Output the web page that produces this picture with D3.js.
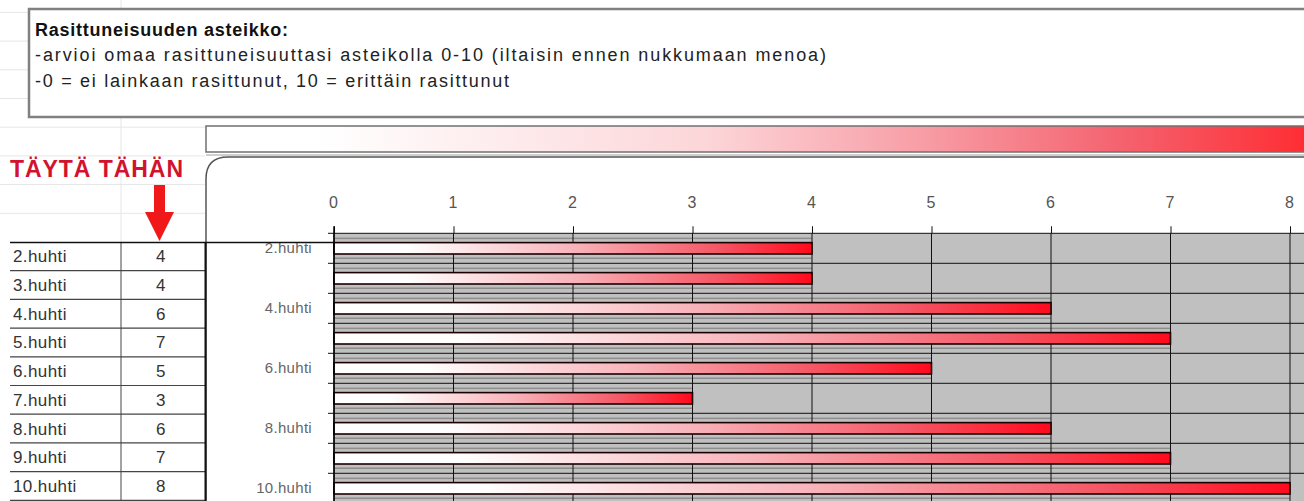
<!DOCTYPE html>
<html>
<head>
<meta charset="utf-8">
<title>Rasittuneisuus</title>
<style>
body { margin: 0; background: #fff; }
svg { display: block; font-family: "Liberation Sans", Arial, sans-serif; }
.tbl text { fill: #333; font-size: 17px; letter-spacing: 0.4px; }
.xAxis text { fill: #555; font-size: 16px; }
.yAxis text { fill: #666; font-size: 15px; letter-spacing: 0.3px; }
</style>
<script src="https://cdn.jsdelivr.net/npm/d3@7"></script>
</head>
<body>
<svg id="chart" width="1304" height="501"></svg>
<script>

// data
var days = ["2.huhti", "3.huhti", "4.huhti", "5.huhti", "6.huhti", "7.huhti", "8.huhti", "9.huhti", "10.huhti"];
var values = [4, 4, 6, 7, 5, 3, 6, 7, 8];
var xTicks = [0, 1, 2, 3, 4, 5, 6, 7, 8, 9, 10];
var yLabels = ["2.huhti", "4.huhti", "6.huhti", "8.huhti", "10.huhti"];
var infoTitle = "Rasittuneisuuden asteikko:";
var infoLines = ["-arvioi omaa rasittuneisuuttasi asteikolla 0-10 (iltaisin ennen nukkumaan menoa)",
                 "-0 = ei lainkaan rasittunut, 10 = erittäin  rasittunut"];
var fillTitle = "TÄYTÄ TÄHÄN";

var data = days.map(function(d, i) { return {day: d, value: values[i]}; });

var svg = d3.select("#chart");
var W = 1304;

// gradients
var defs = svg.append("defs");
var gBar = defs.append("linearGradient").attr("id", "barGrad");
[[0, "#ffffff"], [0.15, "#ffffff"], [0.5, "#f8b4bb"], [0.8, "#f45866"], [1, "#ff0a1c"]].forEach(function(s) {
  gBar.append("stop").attr("offset", s[0]).attr("stop-color", s[1]);
});
var gTop = defs.append("linearGradient").attr("id", "topGrad");
[[0, "#ffffff"], [0.1, "#ffffff"], [0.45, "#fcd6d9"], [0.63, "#f8a2aa"], [0.82, "#f46470"], [1, "#ff2a30"]].forEach(function(s) {
  gTop.append("stop").attr("offset", s[0]).attr("stop-color", s[1]);
});

// faint sheet grid on the left
var sheetRows = d3.range(1, 9).map(function(k) { return 242 - k * 28.7; });
svg.append("g").selectAll("line").data(sheetRows).join("line")
  .attr("x1", 0).attr("x2", 205).attr("y1", d => d).attr("y2", d => d)
  .attr("stroke", "#e6e6e6");
svg.append("line").attr("x1", 121).attr("x2", 121).attr("y1", 0).attr("y2", 242).attr("stroke", "#e6e6e6");

// info box
svg.append("rect").attr("x", 29).attr("y", 9).attr("width", 1300).attr("height", 108)
  .attr("fill", "#fff").attr("stroke", "#808080").attr("stroke-width", 2.5);
svg.append("text").attr("x", 35).attr("y", 36).attr("font-size", 18).attr("font-weight", "bold")
  .attr("fill", "#111").attr("textLength", 253).attr("lengthAdjust", "spacing").text(infoTitle);
svg.append("text").attr("x", 35).attr("y", 61).attr("font-size", 18).attr("fill", "#222")
  .attr("textLength", 791).attr("lengthAdjust", "spacing").text(infoLines[0]);
svg.append("text").attr("x", 35).attr("y", 87).attr("font-size", 18).attr("fill", "#222")
  .attr("textLength", 474).attr("lengthAdjust", "spacing").text(infoLines[1]);

// gradient strip above the chart
svg.append("rect").attr("x", 206).attr("y", 126).attr("width", 1110).attr("height", 26)
  .attr("fill", "url(#topGrad)").attr("stroke", "#707070").attr("stroke-width", 1.5);
svg.append("line").attr("x1", 206).attr("x2", W).attr("y1", 155).attr("y2", 155).attr("stroke", "#a0a0a0");

// chart frame with rounded corner
svg.append("path")
  .attr("d", "M206,520 L206,179 Q206,157 228,157 L1320,157")
  .attr("fill", "#fff").attr("stroke", "#555").attr("stroke-width", 1.5);

// "fill here" label and arrow
svg.append("text").attr("x", 10).attr("y", 177).attr("font-size", 23).attr("font-weight", "bold")
  .attr("fill", "#d2122e").attr("textLength", 173).attr("lengthAdjust", "spacing").text(fillTitle);
svg.append("path")
  .attr("d", "M154,185 L165,185 L165,212 L174,212 L159.5,241 L145,212 L154,212 Z")
  .attr("fill", "#f01818");

// table
var tRow = d3.scaleBand().domain(days).range([242, 242 + 9 * 28.7]);
var tbl = svg.append("g").attr("class", "tbl");
tbl.selectAll("line.row").data(days).join("line").attr("class", "row")
  .attr("x1", 10).attr("x2", 205)
  .attr("y1", d => tRow(d) + tRow.bandwidth()).attr("y2", d => tRow(d) + tRow.bandwidth())
  .attr("stroke", "#444").attr("stroke-width", 1.2);
tbl.append("line").attr("x1", 121).attr("x2", 121).attr("y1", 242).attr("y2", 501).attr("stroke", "#444");
tbl.selectAll("text.day").data(data).join("text").attr("class", "day")
  .attr("x", 13).attr("y", d => tRow(d.day) + tRow.bandwidth() / 2 + 6).text(d => d.day);
tbl.selectAll("text.val").data(data).join("text").attr("class", "val")
  .attr("x", 161).attr("text-anchor", "middle")
  .attr("y", d => tRow(d.day) + tRow.bandwidth() / 2 + 6).text(d => d.value);

// chart scales
var plotTop = 233.3;
var x = d3.scaleLinear().domain([0, 10]).range([334, 334 + 10 * 119.5]);
var yRow = d3.scaleBand().domain(days).range([plotTop, plotTop + 9 * 30]);
var y = d3.scaleBand().domain(days).range([plotTop, plotTop + 9 * 30]).paddingInner(0.62).paddingOuter(0.31);
var plotBottom = plotTop + 9 * 30 + 10;

// plot background
svg.append("rect").attr("x", x(0)).attr("y", plotTop).attr("width", x(10) - x(0)).attr("height", plotBottom - plotTop)
  .attr("fill", "#c0c0c0");

// horizontal grid at band boundaries, with small ticks left of axis
svg.append("g").selectAll("line").data(days).join("line")
  .attr("x1", x(0) - 6).attr("x2", x(10))
  .attr("y1", d => yRow(d)).attr("y2", d => yRow(d))
  .attr("stroke", "#111").attr("stroke-width", 1);

// bar shadows
var sh = svg.append("g").attr("fill", "#8e8e8e");
sh.selectAll("rect.a").data(data).join("rect").attr("class", "a")
  .attr("x", x(0)).attr("y", d => y(d.day) - 5).attr("height", 1.5)
  .attr("width", d => x(d.value) - x(0));
sh.selectAll("rect.b").data(data).join("rect").attr("class", "b")
  .attr("x", x(0)).attr("y", d => y(d.day) + y.bandwidth() + 3.5).attr("height", 1.5)
  .attr("width", d => x(d.value) - x(0));

// vertical grid + top axis
svg.append("g").selectAll("line").data(xTicks).join("line")
  .attr("x1", d => x(d)).attr("x2", d => x(d)).attr("y1", plotTop).attr("y2", plotBottom)
  .attr("stroke", "#111").attr("stroke-width", 1);

svg.append("g").attr("class", "xAxis")
  .attr("transform", "translate(0," + plotTop + ")")
  .call(d3.axisTop(x).tickValues(xTicks).tickSize(7).tickPadding(18).tickFormat(d3.format("d")))
  .call(g => g.select(".domain").remove())
  .call(g => g.selectAll(".tick line").attr("stroke", "#111"))
  .call(g => g.selectAll(".tick text").attr("font-family", null).attr("font-size", null).attr("dx", "-1"));

// bars
svg.append("g").selectAll("rect").data(data).join("rect")
  .attr("x", x(0)).attr("y", d => y(d.day))
  .attr("width", d => x(d.value) - x(0)).attr("height", y.bandwidth())
  .attr("fill", "url(#barGrad)").attr("stroke", "#1a0000").attr("stroke-width", 1.6);

// left axis
svg.append("g").attr("class", "yAxis")
  .attr("transform", "translate(" + (x(0) - 22) + ",0)")
  .call(d3.axisLeft(y).tickValues(yLabels).tickSize(0).tickPadding(0))
  .call(g => g.select(".domain").remove())
  .call(g => g.selectAll(".tick text").attr("font-family", null).attr("font-size", null));
svg.append("line").attr("x1", x(0)).attr("x2", x(0)).attr("y1", plotTop - 7).attr("y2", plotBottom)
  .attr("stroke", "#000").attr("stroke-width", 1.5);

// table top line runs on to the axis, table right edge
svg.append("line").attr("x1", 10).attr("x2", x(0)).attr("y1", 242.5).attr("y2", 242.5)
  .attr("stroke", "#111").attr("stroke-width", 1.5);
svg.append("line").attr("x1", 205.5).attr("x2", 205.5).attr("y1", 242).attr("y2", 501)
  .attr("stroke", "#111").attr("stroke-width", 2);

</script>
</body>
</html>
